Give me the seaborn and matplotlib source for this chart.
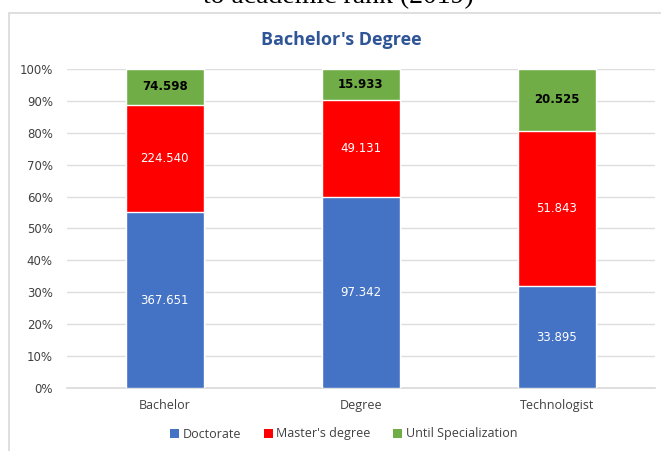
import numpy as np
import pandas as pd
import matplotlib
matplotlib.use('Agg')
import matplotlib.pyplot as plt
from matplotlib.patches import Rectangle, Patch
import seaborn as sns

# data
categories = ['Bachelor', 'Degree', 'Technologist']
series = ['Doctorate', "Master's degree", 'Until Specialization']
doctorate = [367.651, 97.342, 33.895]
masters = [224.540, 49.131, 51.843]
until_spec = [74.598, 15.933, 20.525]
value_labels = {
    'Doctorate': ['367.651', '97.342', '33.895'],
    "Master's degree": ['224.540', '49.131', '51.843'],
    'Until Specialization': ['74.598', '15.933', '20.525'],
}
colors = ['#4472C4', '#FF0000', '#70AD47']
label_colors = ['white', 'white', 'black']
label_weights = ['normal', 'normal', 'bold']
yticks = [0, 10, 20, 30, 40, 50, 60, 70, 80, 90, 100]

sns.set_style('white')
plt.rcParams['font.family'] = ['DejaVu Sans']

df = pd.DataFrame({'category': categories, 'Doctorate': doctorate,
                   "Master's degree": masters, 'Until Specialization': until_spec})
total = df[series].sum(axis=1)
pct = df[series].div(total, axis=0) * 100
cum = pct.cumsum(axis=1)

fig = plt.figure(figsize=(6.61, 4.51), dpi=100)
ax = fig.add_axes([0.101, 0.1397, 0.890, 0.7073])

# outer frame of the chart
fig.patches.append(Rectangle((9 / 661, -0.1), 1.2, 1 - 13 / 451 + 0.1,
                             transform=fig.transFigure, fill=False,
                             edgecolor='#d9d9d9', linewidth=1.2, zorder=0))

# stacked bars: draw cumulative heights from top down
for i in reversed(range(len(series))):
    sns.barplot(x=df['category'], y=cum[series[i]], color=colors[i], width=0.4,
                saturation=1, ax=ax, zorder=3)

for i, s in enumerate(series):
    bottoms = cum[s] - pct[s]
    for j in range(len(categories)):
        ax.text(j, bottoms[j] + pct[s][j] / 2, value_labels[s][j], ha='center', va='center',
                color=label_colors[i], fontweight=label_weights[i], fontsize=8.5, zorder=5)

ax.set_ylim(0, 100)
ax.set_xlim(-0.5, 2.5)
ax.set_yticks(yticks)
ax.set_yticklabels([f'{t}%' for t in yticks], fontsize=8.5, color='#404040')
ax.set_xticks(range(len(categories)))
ax.set_xticklabels(categories, fontsize=9, color='#404040', family='Open Sans')
ax.tick_params(axis='both', length=0)
ax.tick_params(axis='y', pad=10)
ax.tick_params(axis='x', pad=8)
ax.set_xlabel('')
ax.set_ylabel('')
ax.grid(axis='y', color='#dedede', linewidth=1, zorder=0)
ax.set_axisbelow(True)
for side in ['left', 'right', 'top']:
    ax.spines[side].set_visible(False)
ax.spines['bottom'].set_color('#d9d9d9')
ax.spines['bottom'].set_linewidth(1.2)

fig.text(341 / 661, 1 - 40 / 451, "Bachelor's Degree", ha='center', va='center',
         fontsize=13, fontweight='bold', color='#2F5597', family='Open Sans')

handles = [Patch(facecolor=c, edgecolor='none') for c in colors]
fig.legend(handles, series, loc='center', bbox_to_anchor=(0.52, 1 - 434 / 451), ncol=3,
           frameon=False, prop={'family': 'Open Sans', 'size': 9}, handlelength=0.7,
           handleheight=0.7, handletextpad=0.3, columnspacing=1.8, labelcolor='#404040')

fig.text(338 / 661, 1 - 3 / 451, 'to academic rank (2019)', ha='center', va='baseline',
         fontsize=20, family='Liberation Serif', color='black')

fig.savefig('out.png', dpi=100)
